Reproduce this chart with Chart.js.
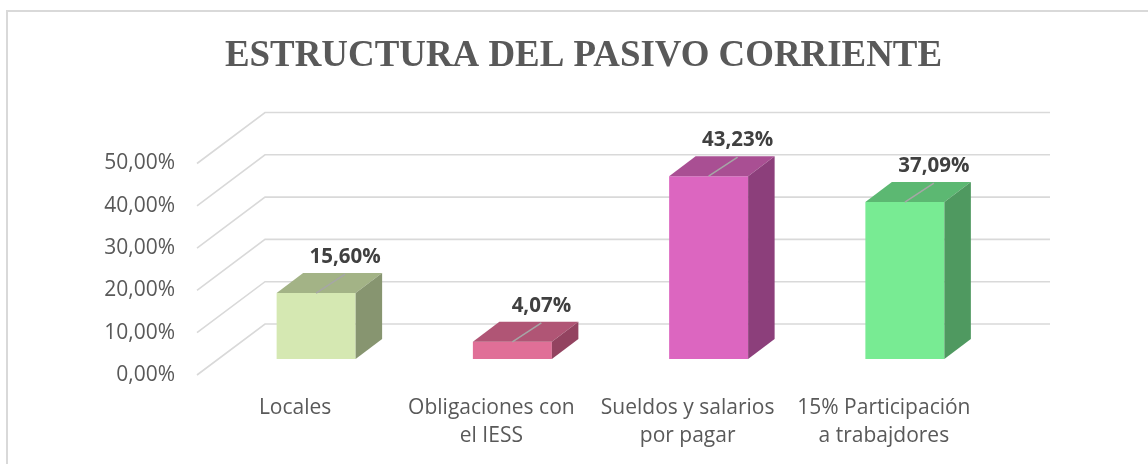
<!DOCTYPE html>
<html>
<head>
<meta charset="utf-8">
<script src="https://cdn.jsdelivr.net/npm/chart.js@4.4.1/dist/chart.umd.min.js"></script>
<style>
  html, body { margin: 0; padding: 0; background: #fff; }
  #wrap { position: relative; width: 1148px; height: 464px; overflow: hidden; }
</style>
</head>
<body>
<div id="wrap"><canvas id="grafico" width="1148" height="464"></canvas></div>
<script>
// datos
const titulo = 'ESTRUCTURA DEL PASIVO CORRIENTE';
const categorias = [
  ['Locales'],
  ['Obligaciones con', 'el IESS'],
  ['Sueldos y salarios', 'por pagar'],
  ['15% Participación', 'a trabajdores']
];
const porcentajes = [15.60, 4.07, 43.23, 37.09];
const etiquetasY = ['0,00%', '10,00%', '20,00%', '30,00%', '40,00%', '50,00%'];

// colores de cada barra: frente, techo, lado
const frente = ['#d5e8b2', '#e06f97', '#dc66c0', '#78eb93'];
const techo = ['#a3b386', '#b05575', '#a94f93', '#5cb872'];
const lado = ['#879570', '#934360', '#8c3f7b', '#4f9960'];

// desplazamientos de la perspectiva
const grosor = { dx: 26.5, dy: -20 };
const pisoFrente = { dx: -21, dy: 16 };
const pisoFondo = { dx: 47, dy: -35 };

const fmt = v => v.toFixed(2).replace('.', ',') + '%';

const efecto3d = {
  id: 'efecto3d',
  beforeDraw(chart) {
    const { ctx } = chart;
    ctx.save();
    ctx.strokeStyle = '#d9d9d9';
    ctx.lineWidth = 2;
    ctx.strokeRect(7, 11, 1400, 700);
    // titulo
    ctx.fillStyle = '#595959';
    ctx.font = 'bold 36.9px "Liberation Serif", "Times New Roman", serif';
    ctx.textAlign = 'center';
    ctx.textBaseline = 'alphabetic';
    ctx.fillText(titulo, 583.5, 65.5);
    ctx.restore();
  },
  beforeDatasetsDraw(chart) {
    const { ctx, chartArea, scales } = chart;
    ctx.save();
    ctx.strokeStyle = '#d9d9d9';
    ctx.lineWidth = 1.6;
    scales.y.ticks.forEach(t => {
      const y = scales.y.getPixelForValue(t.value);
      ctx.beginPath();
      ctx.moveTo(chartArea.left + pisoFrente.dx, y + pisoFrente.dy);
      ctx.lineTo(chartArea.left + pisoFondo.dx, y + pisoFondo.dy);
      ctx.lineTo(chartArea.right + pisoFondo.dx, y + pisoFondo.dy);
      ctx.stroke();
    });
    ctx.restore();
  },
  afterDatasetsDraw(chart) {
    const { ctx } = chart;
    const meta = chart.getDatasetMeta(0);
    ctx.save();
    meta.data.forEach((bar, i) => {
      const { x, y, base, width } = bar.getProps(['x', 'y', 'base', 'width'], true);
      const l = x - width / 2, r = x + width / 2;
      // techo
      ctx.fillStyle = techo[i];
      ctx.beginPath();
      ctx.moveTo(l, y);
      ctx.lineTo(l + grosor.dx, y + grosor.dy);
      ctx.lineTo(r + grosor.dx, y + grosor.dy);
      ctx.lineTo(r, y);
      ctx.closePath();
      ctx.fill();
      // lado
      ctx.fillStyle = lado[i];
      ctx.beginPath();
      ctx.moveTo(r, y);
      ctx.lineTo(r + grosor.dx, y + grosor.dy);
      ctx.lineTo(r + grosor.dx, base + grosor.dy);
      ctx.lineTo(r, base);
      ctx.closePath();
      ctx.fill();
      // etiqueta con linea guia
      const lx = x + 29, ly = y - 36;
      ctx.strokeStyle = '#a6a6a6';
      ctx.lineWidth = 1.5;
      ctx.beginPath();
      ctx.moveTo(x, y);
      ctx.lineTo(lx, ly + 17);
      ctx.stroke();
      ctx.fillStyle = '#404040';
      ctx.font = 'bold 20.5px "Open Sans"';
      ctx.textAlign = 'center';
      ctx.textBaseline = 'middle';
      ctx.fillText(fmt(porcentajes[i]), lx, ly);
    });
    ctx.restore();
  }
};

new Chart(document.getElementById('grafico').getContext('2d'), {
  type: 'bar',
  data: {
    labels: categorias,
    datasets: [{
      data: porcentajes,
      backgroundColor: frente,
      borderWidth: 0,
      categoryPercentage: 1,
      barPercentage: 0.4025
    }]
  },
  options: {
    responsive: false,
    animation: false,
    events: [],
    layout: { padding: { left: 80, right: 145, top: 147.5, bottom: 0 } },
    plugins: {
      legend: { display: false },
      tooltip: { enabled: false },
      title: { display: false }
    },
    scales: {
      x: {
        grid: { display: false, drawTicks: false },
        border: { display: false },
        afterFit(s) { s.height = 105; },
        ticks: {
          color: '#595959',
          font: { family: '"Open Sans"', size: 21, lineHeight: 1.333 },
          padding: 35,
          labelOffset: -21,
          maxRotation: 0,
          autoSkip: false
        }
      },
      y: {
        min: 0,
        max: 50,
        grid: { display: false, drawTicks: false },
        border: { display: false },
        afterFit(s) { s.width = 138; },
        ticks: {
          stepSize: 10,
          color: '#595959',
          font: { family: '"Open Sans"', size: 21 },
          padding: 43,
          labelOffset: 16,
          callback: (v, i) => etiquetasY[i]
        }
      }
    }
  },
  plugins: [efecto3d]
});
</script>
</body>
</html>
